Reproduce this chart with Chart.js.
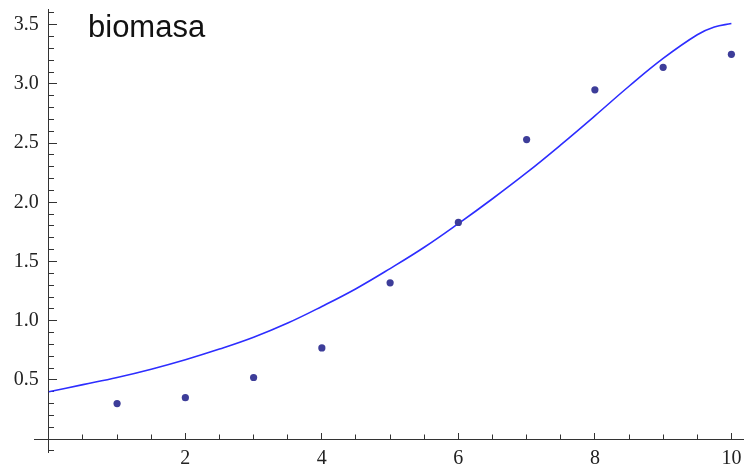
<!DOCTYPE html>
<html><head><meta charset="utf-8">
<script src="https://cdn.jsdelivr.net/npm/chart.js@4"></script>
<style>
html,body{margin:0;padding:0;background:#fff;}
#wrap{position:relative;width:747px;height:472px;}
#title{position:absolute;left:88px;top:11px;font:31px/31px "Liberation Sans",Arial,sans-serif;color:#111;white-space:nowrap;}
</style>
</head><body>
<div id="wrap"><canvas id="c" width="747" height="472"></canvas><div id="title">biomasa</div></div>
<script>
const pointX = [1,2,3,4,5,6,7,8,9,10];
const pointY = [0.30,0.35,0.52,0.77,1.32,1.83,2.53,2.95,3.14,3.25];
const curveX = [0,0.5,1,1.5,2,2.5,3,3.5,4,4.5,5,5.5,6,6.5,7,7.5,8,8.5,9,9.5,9.75,10];
const curveY = [0.40,0.46,0.52,0.59,0.67,0.76,0.86,0.98,1.12,1.27,1.44,1.62,1.82,2.03,2.25,2.485,2.73,2.98,3.215,3.415,3.48,3.51];
const xTickLabels = ['2','4','6','8','10'];
const yTickLabels = ['0.5','1.0','1.5','2.0','2.5','3.0','3.5'];

const axisColor = '#333';
const labelFont = {family: '"Liberation Serif","Times New Roman",serif', size: 20};
const zeroPad = s => { s.paddingTop = s.paddingBottom = s.paddingLeft = s.paddingRight = 0; };

new Chart(document.getElementById('c'), {
  type: 'scatter',
  data: {
    datasets: [
      {
        type: 'scatter', order: 0,
        data: pointX.map((x, i) => ({x, y: pointY[i]})),
        backgroundColor: '#3d3d99', borderColor: '#3d3d99', borderWidth: 0,
        pointRadius: 3.6, xAxisID: 'x', yAxisID: 'y'
      },
      {
        type: 'line', order: 1,
        data: curveX.map((x, i) => ({x, y: curveY[i]})),
        borderColor: 'rgb(45,45,255)', borderWidth: 1.6, pointRadius: 0,
        tension: 0.4, fill: false, xAxisID: 'x', yAxisID: 'y'
      }
    ]
  },
  options: {
    responsive: false, animation: false, devicePixelRatio: 1,
    layout: {padding: {left: 34.5, top: 9.3, right: 0, bottom: 19.3}},
    plugins: {legend: {display: false}, tooltip: {enabled: false}, title: {display: false}},
    scales: {
      x: {
        type: 'linear', min: -0.21, max: 10.17, position: {y: 0},
        afterBuildTicks: s => { s.ticks = xTickLabels.map(t => ({value: parseFloat(t)})); },
        afterFit: zeroPad,
        ticks: {font: labelFont, color: '#222', padding: 15, maxRotation: 0, autoSkip: false,
          callback: (v) => { const i = xTickLabels.findIndex(t => Math.abs(parseFloat(t) - v) < 1e-9); return i >= 0 ? xTickLabels[i] : ''; }},
        grid: {drawOnChartArea: false, drawTicks: true, tickLength: -7, tickColor: axisColor, tickWidth: 1},
        border: {display: true, color: axisColor, width: 1}
      },
      x2: {
        type: 'linear', axis: 'x', min: -0.21, max: 10.17, position: {y: 0},
        afterFit: zeroPad,
        ticks: {display: false, stepSize: 0.5, includeBounds: false, autoSkip: false},
        grid: {drawOnChartArea: false, drawTicks: true, tickLength: -4.5, tickColor: axisColor, tickWidth: 1},
        border: {display: false}
      },
      y: {
        type: 'linear', min: -0.115, max: 3.63, position: {x: 0},
        afterBuildTicks: s => { s.ticks = yTickLabels.map(t => ({value: parseFloat(t)})); },
        afterFit: zeroPad,
        ticks: {font: labelFont, color: '#222', autoSkip: false,
          callback: (v) => { const i = yTickLabels.findIndex(t => Math.abs(parseFloat(t) - v) < 1e-9); return i >= 0 ? yTickLabels[i] + '\u2002' : ''; }},
        grid: {drawOnChartArea: false, drawTicks: true, tickLength: -9, tickColor: axisColor, tickWidth: 1},
        border: {display: true, color: axisColor, width: 1}
      },
      y2: {
        type: 'linear', axis: 'y', min: -0.115, max: 3.63, position: {x: 0},
        afterFit: zeroPad,
        ticks: {display: false, stepSize: 0.1, includeBounds: false, autoSkip: false},
        grid: {drawOnChartArea: false, drawTicks: true, tickLength: -5, tickColor: axisColor, tickWidth: 1},
        border: {display: false}
      }
    }
  }
});
</script>
</body></html>
